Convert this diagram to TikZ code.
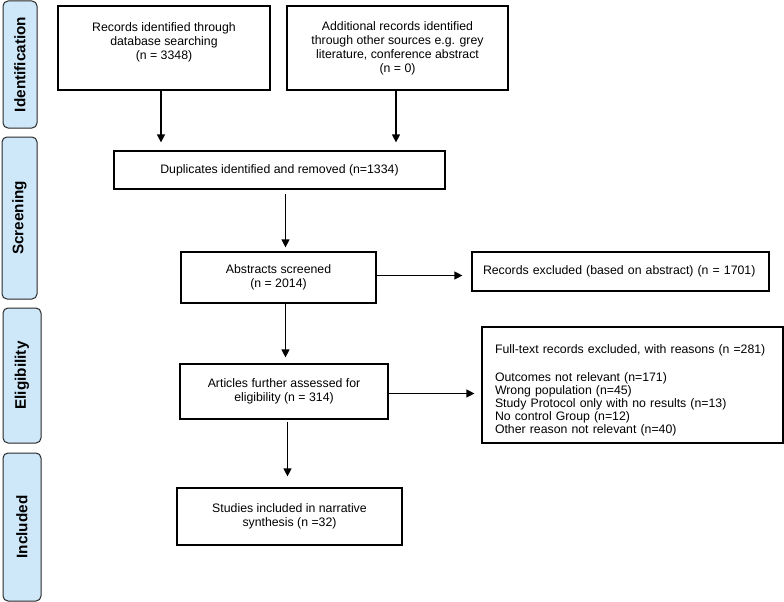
\documentclass[tikz,border=0pt]{standalone}
\usepackage{fontspec}
\setmainfont{Liberation Sans}
\usetikzlibrary{arrows.meta,calc}
\definecolor{phase}{RGB}{206,232,250}
\definecolor{phaseline}{RGB}{40,40,40}
\hbadness=10000 \hfuzz=100pt
\begin{document}
\begin{tikzpicture}[x=1pt,y=-1pt,
  every node/.style={font=\fontsize{12.3}{14}\selectfont},
  box/.style={draw=black, line width=1.2pt, inner sep=0pt, align=center},
  lbox/.style={draw=black, line width=1.2pt, inner ysep=0pt, align=left},
  phasebox/.style={draw=phaseline, fill=phase, line width=1pt, rounded corners=5pt,
     rotate=90, inner sep=0pt, text=black,
     font=\fontsize{15.3}{17}\selectfont\bfseries},
  arr/.style={-{Triangle[width=8pt,length=8pt]}, line width=1.2pt}]
\useasboundingbox (0,0) rectangle (784,602);

% phase labels
\node[phasebox, minimum width=127pt, minimum height=34pt] (pid) at (20,64.5) {Identification};
\node[phasebox, minimum width=162pt, minimum height=35pt] (pscr) at (19.5,218) {Screening};
\node[phasebox, minimum width=135pt, minimum height=38pt] (pelig) at (22,375.5) {Eligibility};
\node[phasebox, minimum width=148pt, minimum height=38pt] (pinc) at (22,527) {Included};

% boxes
\node[box, minimum width=212pt, minimum height=84pt] (id1) at (164,48)
  {Records identified through\\database searching\\(n = 3348)\\\mbox{}};
\node[box, minimum width=221pt, minimum height=84pt] (id2) at (397.5,48)
  {Additional records identified\\through other sources e.g. grey\\literature, conference abstract\\(n = 0)};
\node[box, minimum width=331pt, minimum height=38pt] (dup) at (279.5,170)
  {Duplicates identified and removed (n=1334)};
\node[box, minimum width=195pt, minimum height=51pt] (abs) at (278.5,277.5)
  {Abstracts screened\\(n = 2014)};
\node[lbox, inner xsep=11pt, text width=275pt, minimum height=39pt] (excl) at (620.5,271.5)
  {\mbox{Records excluded (based on abstract) (n = 1701)}};
\node[box, minimum width=208pt, minimum height=55pt] (art) at (284,391.5)
  {Articles further assessed for\\eligibility (n = 314)};
\node[lbox, inner xsep=13pt, text width=275pt, minimum height=116pt,
      font=\fontsize{12.3}{13}\selectfont] (ft) at (632.5,385)
  {\rule{0pt}{19pt}\mbox{Full-text records excluded, with reasons (n =281)}\\[15pt]
   \mbox{Outcomes not relevant (n=171)}\\
   \mbox{Wrong population (n=45)}\\
   \mbox{Study Protocol only with no results (n=13)}\\
   \mbox{No control Group (n=12)}\\
   \mbox{Other reason not relevant (n=40)}};
\node[box, minimum width=225pt, minimum height=57pt] (stud) at (289.5,516.5)
  {Studies included in narrative\\synthesis (n =32)};

% connectors
\draw[arr, shorten >=8pt] ($(id1.south)+(-3,0)$) -- ($(id1.south |- dup.north)+(-3,0)$);
\draw[arr, shorten >=8pt] ($(id2.south)+(-1.5,0)$) -- ($(id2.south |- dup.north)+(-1.5,0)$);
\draw[arr, shorten <=4pt, shorten >=4pt] ($(abs.north |- dup.south)+(7,0)$) -- ($(abs.north)+(7,0)$);
\draw[arr, shorten >=6pt] ($(abs.south)+(7,0)$) -- ($(abs.south |- art.north)+(7,0)$);
\draw[arr, shorten <=2pt, shorten >=11pt] ($(art.south)+(3.5,0)$) -- ($(art.south |- stud.north)+(3.5,0)$);
\draw[arr, shorten >=9pt] ($(abs.east)+(0,-2)$) -- ($(abs.east -| excl.west)+(0,-2)$);
\draw[arr, shorten >=7pt] ($(art.east)+(0,2)$) -- ($(art.east -| ft.west)+(0,2)$);
\end{tikzpicture}
\end{document}
